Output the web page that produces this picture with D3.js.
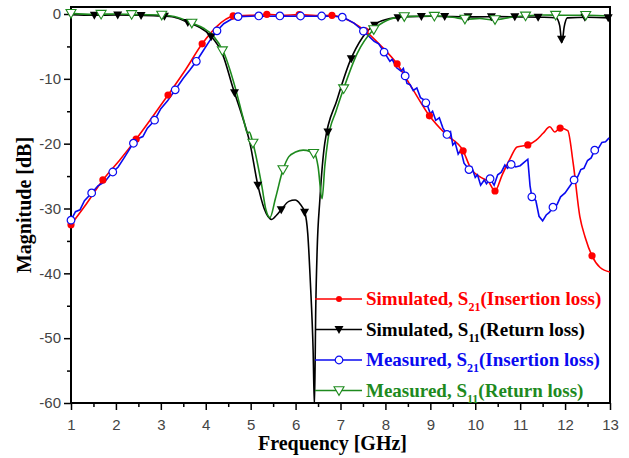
<!DOCTYPE html>
<html>
<head>
<meta charset="utf-8">
<script src="https://cdn.jsdelivr.net/npm/d3@7"></script>
<style>
  body { margin: 0; background: #fff; }
  svg { display: block; }
</style>
</head>
<body>
<div id="chart"></div>
<script>
// [frequency GHz, magnitude dB]
let simS21 = [[1.0,-32.5],[1.3,-29.7],[1.71,-25.6],[2.1,-22.4],[2.45,-19.3],[2.8,-16.0],[3.16,-12.5],[3.55,-8.6],[3.92,-4.6],
  [4.25,-1.9],[4.45,-0.8],[4.61,-0.3],[5.0,-0.2],[5.36,-0.05],[5.7,-0.2],[6.08,-0.1],[6.45,-0.25],[6.81,-0.2],[7.06,-0.6],
  [7.3,-1.4],[7.55,-2.6],[7.9,-4.9],[8.26,-7.7],[8.6,-11.5],[8.98,-15.7],[9.35,-18.6],[9.73,-21.1],[9.9,-23.8],[10.1,-25.1],
  [10.3,-25.9],[10.44,-27.3],[10.6,-24.8],[10.77,-22.4],[10.93,-20.5],[11.17,-20.2],[11.35,-19.5],[11.51,-18.4],[11.66,-17.4],
  [11.77,-18.2],[11.89,-17.6],[12.06,-18.0],[12.18,-23.0],[12.33,-31.3],[12.45,-34.5],[12.6,-37.3],[12.78,-39.1],[13.0,-39.8]];

let simS11 = [[1.0,-0.1],[1.5,-0.2],[2.0,-0.15],[2.5,-0.2],[3.0,-0.3],[3.3,-0.5],[3.6,-1.3],[3.85,-2.0],[4.1,-3.3],[4.38,-6.3],
  [4.61,-11.5],[4.8,-15.5],[4.98,-19.8],[5.16,-26.4],[5.3,-30.0],[5.47,-31.7],[5.58,-31.0],[5.68,-30.2],[5.85,-28.9],[5.99,-28.7],
  [6.1,-29.3],[6.21,-30.7],[6.27,-33.8],[6.33,-41.5],[6.39,-51.8],[6.42,-60.5],[6.45,-45.0],[6.48,-36.4],[6.54,-28.7],[6.65,-19.9],
  [6.92,-13.3],[7.21,-7.3],[7.5,-3.5],[7.81,-1.4],[8.1,-0.7],[8.5,-0.4],[9.0,-0.35],[9.5,-0.4],[10.0,-0.45],[10.5,-0.4],
  [11.0,-0.45],[11.5,-0.5],[11.8,-0.6],[11.88,-1.8],[11.93,-4.4],[11.98,-2.0],[12.05,-0.6],[12.5,-0.5],[13.0,-0.6]];

let measS21 = [[1.0,-31.8],[1.1,-30.5],[1.2,-30.2],[1.3,-28.8],[1.46,-27.6],[1.6,-26.5],[1.75,-25.9],[1.91,-24.5],[2.05,-23.6],
  [2.2,-22.0],[2.38,-20.0],[2.5,-19.2],[2.6,-18.9],[2.7,-17.6],[2.85,-16.5],[3.0,-14.6],[3.15,-13.4],[3.33,-11.6],[3.5,-9.9],
  [3.65,-8.6],[3.8,-7.2],[3.95,-5.6],[4.1,-4.0],[4.25,-2.6],[4.4,-1.5],[4.55,-0.9],[4.72,-0.4],[5.0,-0.35],[5.19,-0.3],
  [5.4,-0.35],[5.65,-0.3],[5.9,-0.35],[6.14,-0.3],[6.4,-0.35],[6.61,-0.3],[6.85,-0.35],[7.06,-0.5],[7.3,-1.4],[7.52,-2.7],
  [7.75,-4.2],[7.85,-4.6],[8.01,-6.3],[8.1,-7.3],[8.15,-7.0],[8.25,-8.3],[8.35,-8.8],[8.4,-8.4],[8.48,-10.7],[8.55,-10.9],
  [8.62,-11.8],[8.7,-11.4],[8.78,-12.9],[8.85,-13.2],[8.93,-14.0],[9.0,-15.4],[9.05,-15.0],[9.12,-16.4],[9.2,-16.0],
  [9.28,-17.6],[9.39,-18.8],[9.45,-18.2],[9.5,-20.2],[9.55,-19.8],[9.62,-21.6],[9.68,-21.0],[9.75,-23.0],[9.86,-24.0],
  [9.92,-23.6],[10.0,-25.2],[10.05,-24.8],[10.12,-26.4],[10.2,-25.6],[10.25,-26.2],[10.33,-25.4],[10.42,-26.4],[10.5,-24.8],
  [10.58,-24.4],[10.66,-23.3],[10.72,-23.8],[10.8,-23.2],[10.9,-23.6],[11.0,-23.4],[11.1,-22.8],[11.17,-22.4],[11.22,-26.5],
  [11.26,-28.2],[11.35,-28.8],[11.42,-31.2],[11.5,-31.9],[11.58,-31.0],[11.65,-30.6],[11.73,-29.8],[11.82,-29.4],[11.9,-28.2],
  [12.0,-27.6],[12.1,-26.6],[12.2,-25.6],[12.28,-25.1],[12.35,-24.0],[12.42,-23.8],[12.5,-22.6],[12.58,-22.2],[12.66,-21.0],
  [12.75,-20.6],[12.82,-19.8],[12.9,-19.7],[12.98,-19.1]];

let measS11 = [[1.0,0.1],[1.5,-0.05],[2.0,0.0],[2.5,-0.1],[3.0,-0.15],[3.3,-0.4],[3.69,-1.4],[3.95,-2.2],[4.16,-3.3],[4.41,-6.1],
  [4.65,-11.2],[4.85,-16.5],[4.93,-18.4],[4.97,-18.2],[5.05,-19.9],[5.25,-26.6],[5.34,-30.2],[5.43,-31.4],[5.55,-28.5],
  [5.72,-24.0],[5.85,-22.0],[6.0,-21.3],[6.17,-21.0],[6.32,-21.2],[6.43,-21.6],[6.5,-23.5],[6.59,-28.5],[6.65,-23.5],
  [6.72,-19.4],[6.9,-15.0],[7.06,-11.7],[7.37,-6.1],[7.72,-2.5],[8.03,-1.0],[8.39,-0.4],[9.0,-0.3],[9.5,-0.5],[9.8,-0.8],
  [10.1,-0.7],[10.4,-0.9],[10.8,-0.5],[11.1,-0.3],[11.5,-0.15],[12.0,-0.2],[12.5,-0.2],[13.0,-0.3]];

// marker frequencies along each curve
let simS21Marks = [1.0,1.71,2.45,3.16,3.92,4.61,5.36,6.08,6.81,7.55,8.26,8.98,9.73,10.44,11.17,11.89,12.6];
let simS11Marks = [1.52,2.04,2.56,3.08,3.6,4.12,4.64,5.16,5.68,6.2,6.72,7.24,7.76,8.28,8.8,9.32,9.84,10.36,10.88,11.4,11.92,12.44,12.96];
let measS21Marks = [1.0,1.46,1.93,2.39,2.86,3.32,3.79,4.25,4.72,5.18,5.65,6.11,6.58,7.04,7.51,7.97,8.44,8.9,9.37,9.86,10.33,10.8,11.26,11.73,12.2,12.66];
let measS11Marks = [1.0,1.67,2.35,3.02,3.69,4.37,5.05,5.72,6.4,7.07,7.74,8.42,9.09,9.77,10.44,11.12,11.79,12.46];

let xTicks = d3.range(1, 14);
let yTicks = [-60, -50, -40, -30, -20, -10, 0];

let legendMain = ["Simulated, S", "Simulated, S", "Measured, S", "Measured, S"];
let legendSub = ["21", "11", "21", "11"];
let legendRest = ["(Insertion loss)", "(Return loss)", "(Insertion loss)", "(Return loss)"];

let width = 629;
let height = 458;
let pLeft = 71, pRight = 610, pTop = 7, pBottom = 403;

let svg = d3.select("#chart").append("svg").attr("width", width).attr("height", height);

let xscale = d3.scaleLinear().domain([1, 13]).range([pLeft, pRight]);
let yscale = d3.scaleLinear().domain([-60, 1.08]).range([pBottom, pTop]);

// minor ticks
svg.append("g")
    .attr("transform", "translate(0," + pBottom + ")")
    .call(d3.axisBottom(xscale).tickValues(d3.range(1.5, 13, 1)).tickSize(4).tickSizeOuter(0).tickFormat(""))
    .call(g => g.select(".domain").remove())
    .selectAll("line").attr("stroke-width", 1.5);
svg.append("g")
    .attr("transform", "translate(" + pLeft + ",0)")
    .call(d3.axisLeft(yscale).tickValues(d3.range(-55, 0, 10)).tickSize(4).tickSizeOuter(0).tickFormat(""))
    .call(g => g.select(".domain").remove())
    .selectAll("line").attr("stroke-width", 1.5);

let xAxis = svg.append("g")
    .attr("transform", "translate(0," + pBottom + ")")
    .call(d3.axisBottom(xscale).tickValues(xTicks).tickSize(7).tickSizeOuter(0).tickPadding(9).tickFormat(d => String(d)));
let yAxis = svg.append("g")
    .attr("transform", "translate(" + pLeft + ",0)")
    .call(d3.axisLeft(yscale).tickValues(yTicks).tickSize(7).tickSizeOuter(0).tickPadding(3).tickFormat(d => String(d)));

[xAxis, yAxis].forEach(function (g) {
    g.select(".domain").remove();
    g.selectAll("line").attr("stroke-width", 1.5);
    g.selectAll("text")
        .style("font-family", "'Liberation Sans', Arial, sans-serif")
        .style("font-size", "15px")
        .attr("fill", "#444");
});

// frame
svg.append("rect")
    .attr("x", pLeft).attr("y", pTop)
    .attr("width", pRight - pLeft).attr("height", pBottom - pTop)
    .attr("fill", "none").attr("stroke", "black").attr("stroke-width", 2);

svg.append("defs").append("clipPath").attr("id", "plot")
    .append("rect").attr("x", pLeft).attr("y", pTop).attr("width", pRight - pLeft).attr("height", pBottom - pTop);

let series = [
    { data: simS21, marks: simS21Marks, color: "#ff0000", curve: d3.curveMonotoneX, shape: "dot" },
    { data: simS11, marks: simS11Marks, color: "#000000", curve: d3.curveMonotoneX, shape: "tri" },
    { data: measS21, marks: measS21Marks, color: "#0a0af0", curve: d3.curveLinear, shape: "circle" },
    { data: measS11, marks: measS11Marks, color: "#1e8a1e", curve: d3.curveMonotoneX, shape: "otri" }
];

let plot = svg.append("g").attr("clip-path", "url(#plot)");

series.forEach(function (s) {
    let line = d3.line()
        .x(d => xscale(d[0]))
        .y(d => yscale(d[1]))
        .curve(s.curve);
    plot.append("path")
        .datum(s.data)
        .attr("d", line)
        .attr("fill", "none")
        .attr("stroke", s.color)
        .attr("stroke-width", 1.6);
});

function valueAt(data, f) {
    let i = d3.bisector(d => d[0]).left(data, f);
    if (i <= 0) return data[0][1];
    if (i >= data.length) return data[data.length - 1][1];
    let a = data[i - 1], b = data[i];
    let t = (f - a[0]) / (b[0] - a[0]);
    return a[1] + t * (b[1] - a[1]);
}

function drawMarker(g, shape, color) {
    if (shape == "dot") {
        g.append("circle").attr("r", 3.6).attr("fill", color);
    } else if (shape == "circle") {
        g.append("circle").attr("r", 3.8).attr("fill", "white").attr("stroke", color).attr("stroke-width", 1.2);
    } else if (shape == "tri") {
        g.append("path").attr("d", "M-4.5,-3.5L4.5,-3.5L0,4.5Z").attr("fill", color);
    } else {
        g.append("path").attr("d", "M-5,-3.8L5,-3.8L0,4.8Z").attr("fill", "white").attr("stroke", color).attr("stroke-width", 1.1);
    }
}

let markG = svg.append("g");
series.forEach(function (s) {
    s.marks.forEach(function (f) {
        let g = markG.append("g")
            .attr("transform", "translate(" + xscale(f) + "," + yscale(valueAt(s.data, f)) + ")");
        drawMarker(g, s.shape, s.color);
    });
});

// legend
let legend = svg.append("g").attr("transform", "translate(315,299)");
series.forEach(function (s, i) {
    let row = legend.append("g").attr("transform", "translate(0," + (i * 30.5) + ")");
    row.append("line").attr("x1", 0).attr("x2", 47).attr("y1", 0).attr("y2", 0)
        .attr("stroke", s.color).attr("stroke-width", 1.6);
    let m = row.append("g").attr("transform", "translate(24,0)");
    if (s.shape == "dot") {
        m.append("circle").attr("r", 3).attr("fill", s.color);
    } else {
        drawMarker(m, s.shape, s.color);
    }
    let t = row.append("text")
        .attr("x", 51).attr("y", 6)
        .style("font-family", "'Liberation Serif', 'Times New Roman', serif")
        .style("font-weight", "bold")
        .style("font-size", "19px")
        .attr("fill", s.color);
    t.append("tspan").text(legendMain[i]);
    t.append("tspan").attr("dy", 6).style("font-size", "12px").text(legendSub[i]);
    t.append("tspan").attr("dy", -6).text(legendRest[i]);
});

// axis titles
svg.append("text")
    .attr("x", (pLeft + pRight) / 2 - 8).attr("y", 450)
    .attr("text-anchor", "middle")
    .style("font-family", "'Liberation Serif', 'Times New Roman', serif")
    .style("font-weight", "bold")
    .style("font-size", "20px")
    .text("Frequency [GHz]");

svg.append("text")
    .attr("transform", "translate(31," + 205 + ") rotate(-90)")
    .attr("text-anchor", "middle")
    .style("font-family", "'Liberation Serif', 'Times New Roman', serif")
    .style("font-weight", "bold")
    .style("font-size", "20px")
    .text("Magnitude [dB]");
</script>
</body>
</html>
